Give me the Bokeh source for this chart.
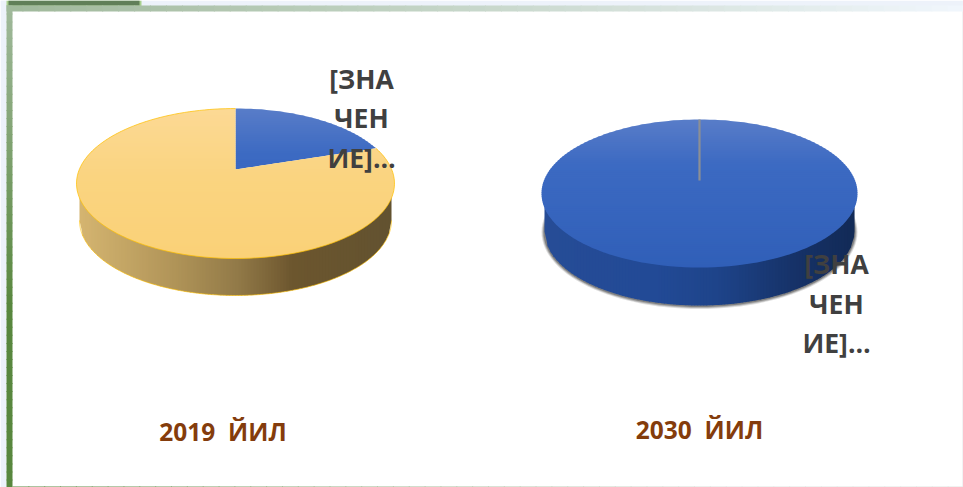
import math
from bokeh.plotting import figure
from bokeh.models import Range1d, ColumnDataSource
from bokeh.core.properties import value
from bokeh.embed import file_html
from bokeh.resources import INLINE

# ---- data ----
years = ["2019\u00a0\u00a0ЙИЛ", "2030\u00a0\u00a0ЙИЛ"]
values_2019 = [20, 80]
values_2030 = [100, 0]
slice_names = ["first", "second"]
label_lines = ["[ЗНА", "ЧЕН", "ИЕ]…"]

# ---- styles ----
BLUE_TOP = [(0.0, (88, 124, 200)), (0.3, (60, 106, 194)), (1.0, (48, 95, 184))]
GOLD_TOP = [(0.0, (252, 217, 148)), (0.45, (250, 212, 128)), (1.0, (250, 209, 120))]
GOLD_SIDE = [(0.0, (212, 180, 112)), (0.3, (176, 148, 88)), (0.5, (146, 122, 72)),
             (0.68, (108, 86, 46)), (1.0, (98, 82, 48))]
BLUE_SIDE = [(0.0, (38, 76, 150)), (0.35, (34, 74, 150)), (0.55, (30, 68, 138)),
             (0.8, (22, 50, 104)), (1.0, (18, 42, 86))]
TEXT = "#404040"
TITLE = "#843C0C"
FONT = value("Open Sans")
PAGE_BG = "#edf2fa"


def mix(stops, t):
    t = max(0.0, min(1.0, t))
    for (t0, c0), (t1, c1) in zip(stops, stops[1:]):
        if t <= t1:
            f = (t - t0) / (t1 - t0)
            return "#%02x%02x%02x" % tuple(round(a + (b - a) * f) for a, b in zip(c0, c1))
    return "#%02x%02x%02x" % stops[-1][1]


def project(pie, u, v):
    k = pie["apex"] / pie["ry"]
    a = pie["rx"] * math.sqrt(1 - k * k)
    d = 1 + k * v
    return pie["cx"] + a * u / d, pie["cy"] - (pie["ry"] * v + pie["apex"]) / d


def sector(pie, frac0, frac1):
    n = max(2, int((frac1 - frac0) * 160))
    pts = [project(pie, 0, 0)] if frac1 - frac0 < 1 else []
    for i in range(n + 1):
        th = 2 * math.pi * (frac0 + (frac1 - frac0) * i / n)
        pts.append(project(pie, math.sin(th), math.cos(th)))
    return pts


def clip(pts, y0, y1):
    def half(points, inside, cross):
        out = []
        for i, p in enumerate(points):
            q = points[(i + 1) % len(points)]
            if inside(p):
                out.append(p)
            if inside(p) != inside(q):
                out.append(cross(p, q))
        return out

    def at(y):
        return lambda p, q: (p[0] + (q[0] - p[0]) * (y - p[1]) / (q[1] - p[1]), y)

    r = half(pts, lambda p: p[1] >= y0, at(y0))
    if r:
        r = half(r, lambda p: p[1] <= y1, at(y1))
    return r


p = figure(width=963, height=487, x_range=Range1d(0, 963), y_range=Range1d(487, 0),
           output_backend="svg", toolbar_location=None, min_border=0,
           background_fill_color="white", border_fill_color="white", outline_line_color=None)
p.axis.visible = False
p.grid.visible = False


def add_patches(xs, ys, colors, alpha=1.0):
    src = ColumnDataSource(dict(x=xs, y=ys, c=colors))
    p.patches("x", "y", source=src, fill_color="c", line_color=None, fill_alpha=alpha)


def draw_pie(pie, values, top_stops, side_stops, rim=None, shadow=False, seam=None):
    cx, cy, rx, ry, depth = pie["cx"], pie["cy"], pie["rx"], pie["ry"], pie["depth"]
    rx2 = rx - 3
    if shadow:
        th = [2 * math.pi * i / 120 for i in range(121)]
        for grow, al in ((3.0, 0.16), (2.0, 0.26), (1.0, 0.36)):
            add_patches([[cx + (rx2 + grow) * math.sin(t) for t in th]],
                        [[cy + depth + 0.5 + (ry + grow) * math.cos(t) for t in th]],
                        ["#303030"], al)
    # side wall: vertical strips with a left-to-right gradient
    xs, ys, cs = [], [], []
    x = cx - rx2
    step = 3.0
    while x < cx + rx2:
        x1 = min(x + step + 0.6, cx + rx2)
        top = lambda q: cy + ry * math.sqrt(max(0, 1 - ((q - cx) / rx) ** 2)) - 1
        bot = lambda q: cy + depth + ry * math.sqrt(max(0, 1 - ((q - cx) / rx2) ** 2))
        xs.append([x, x1, x1, x])
        ys.append([top(x), top(x1), bot(x1), bot(x)])
        cs.append(mix(side_stops, (x - cx + rx2) / (2 * rx2)))
        x += step
    add_patches(xs, ys, cs)
    # top surface: slices cut in horizontal bands for the soft gradient
    total = sum(values)
    start = 0.0
    for val, stops in zip(values, top_stops):
        frac = val / total
        if frac > 0:
            poly = sector(pie, start, start + frac)
            xs, ys, cs = [], [], []
            y = cy - ry - 1
            while y < cy + ry + 1:
                part = clip(poly, y, y + 2.6)
                if len(part) > 2:
                    xs.append([q[0] for q in part])
                    ys.append([q[1] for q in part])
                    cs.append(mix(stops, (y - (cy - ry)) / (2 * ry)))
                y += 2.0
            add_patches(xs, ys, cs)
        start += frac
    if rim:
        # rim only around the gold slice and along the front of the wall
        first = values[0] / total
        rp = sector(pie, first, 1)[1:]
        p.line([q[0] for q in rp], [q[1] for q in rp], line_color=rim, line_width=1, line_alpha=0.7)
        bx = [cx + rx2 * math.sin(2 * math.pi * i / 120) for i in range(-30, 31)]
        by = [cy + depth + ry * math.cos(2 * math.pi * i / 120) for i in range(-30, 31)]
        p.line(bx, by, line_color=rim, line_width=1, line_alpha=0.6)
    if seam:
        ap = project(pie, 0, 0)
        rm = project(pie, 0, 1)
        p.line([ap[0], rm[0]], [ap[1], rm[1]], line_color=seam, line_width=2.2)


def lerp(a, b, f):
    return "#%02x%02x%02x" % tuple(round(x + (y - x) * f) for x, y in zip(a, b))


# page surround and frame
p.quad(left=[0, 0], right=[963, 6], top=[0, 0], bottom=[6, 487], fill_color=PAGE_BG, line_color=None)
p.quad(left=[6], right=[141], top=[0], bottom=[5.5], fill_color="#a9d18e", line_color=None)
p.quad(left=[8], right=[139], top=[0], bottom=[5], fill_color="#607f58", line_color=None)
fr = dict(l=[], r=[], t=[], b=[], c=[])
for i in range(60):
    f = i / 59
    fr["l"].append(6); fr["r"].append(12)
    fr["t"].append(5 + 482 * i / 60); fr["b"].append(5 + 482 * (i + 1) / 60 + 1)
    fr["c"].append(lerp((160, 185, 155), (88, 135, 62), min(1, f * 1.6)))
for i in range(60):
    f = i / 59
    fr["l"].append(6 + 957 * i / 60); fr["r"].append(6 + 957 * (i + 1) / 60 + 1)
    fr["t"].append(5); fr["b"].append(11)
    fr["c"].append(lerp((160, 185, 155), (240, 246, 252), f))
for i in range(60):
    f = i / 59
    fr["l"].append(12 + 951 * i / 60); fr["r"].append(12 + 951 * (i + 1) / 60 + 1)
    fr["t"].append(486); fr["b"].append(487)
    fr["c"].append(lerp((88, 135, 62), (225, 228, 225), min(1, f * 1.3)))
p.quad(left="l", right="r", top="t", bottom="b", fill_color="c", line_color=None,
       source=ColumnDataSource(fr))
p.quad(left=[962], right=[963], top=[11], bottom=[487], fill_color="#e6e8ea", line_color=None)

pie_a = dict(cx=235, cy=183, rx=159, ry=75, apex=14, depth=37)
pie_b = dict(cx=699, cy=193, rx=158, ry=74, apex=13, depth=38)

draw_pie(pie_a, values_2019, [BLUE_TOP, GOLD_TOP], GOLD_SIDE, rim="#FFC000")
draw_pie(pie_b, values_2030, [BLUE_TOP, GOLD_TOP], BLUE_SIDE, shadow=True, seam="#8c8f94")

# data labels
text_kw = dict(text_font=FONT, text_font_style="bold", text_align="center",
               text_baseline="alphabetic")
p.text([361, 361, 361], [78, 117, 157], text=label_lines, text_color=TEXT,
       text_font_size="26.5px", **text_kw)
p.text([836, 836, 836], [263, 303, 342], text=label_lines, text_color=TEXT,
       text_font_size="26.5px", **text_kw)
# year captions
p.text([222.5, 699], [431, 429], text=years, text_color=TITLE, text_font_size="24.5px", **text_kw)

open("out.html", "w").write(file_html(p, INLINE))
